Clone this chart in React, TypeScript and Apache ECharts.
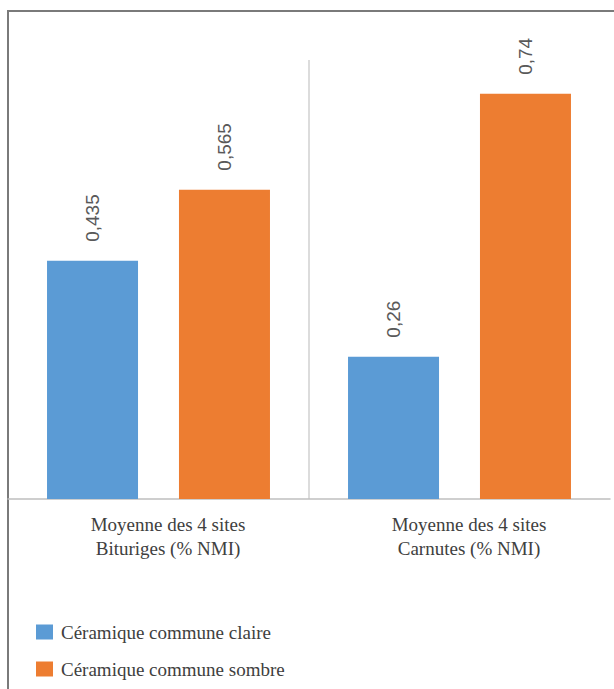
import React, { useEffect, useRef } from "react";
import * as echarts from "echarts";

const categories = [
  "Moyenne des 4 sites\nBituriges (% NMI)",
  "Moyenne des 4 sites\nCarnutes (% NMI)",
];
const seriesNames = ["Céramique commune claire", "Céramique commune sombre"];
const claireValues = [0.435, 0.26];
const sombreValues = [0.565, 0.74];
const yMax = 0.8;

const BLUE = "#5B9BD5";
const ORANGE = "#ED7D31";
const SERIF = "'Liberation Serif', 'Times New Roman', serif";

export default function App() {
  const ref = useRef<HTMLDivElement>(null);

  useEffect(() => {
    document.body.style.margin = "0";
    if (!ref.current) return;
    const chart = echarts.init(ref.current, undefined, { renderer: "svg" });

    const valueLabel = {
      show: true,
      position: "top",
      rotate: 90,
      align: "left",
      verticalAlign: "middle",
      distance: 19,
      fontFamily: "Liberation Sans",
      fontSize: 19,
      color: "#595959",
      formatter: (p: any) => String(p.value).replace(".", ","),
    };

    chart.setOption({
      animation: false,
      backgroundColor: "#ffffff",
      grid: { left: 8, right: 4, top: 61, bottom: 190, containLabel: false },
      xAxis: {
        type: "category",
        data: categories,
        axisLine: { show: true, lineStyle: { color: "#BFBFBF", width: 1.5 } },
        axisTick: { show: false },
        splitLine: { show: false },
        axisLabel: {
          color: "#404040",
          fontFamily: SERIF,
          fontSize: 19,
          lineHeight: 24,
          margin: 13,
          padding: [0, 0, 0, 19],
          interval: 0,
        },
      },
      yAxis: {
        type: "value",
        min: 0,
        max: yMax,
        show: false,
        splitLine: { show: false },
      },
      legend: {
        orient: "vertical",
        left: 36,
        top: 622,
        height: 67,
        itemWidth: 17,
        itemHeight: 15,
        itemGap: 17,
        icon: "rect",
        padding: 0,
        data: seriesNames,
        textStyle: {
          color: "#404040",
          fontFamily: SERIF,
          fontSize: 19,
          lineHeight: 20,
          padding: [0, 0, 0, 3],
        },
      },
      series: [
        {
          name: seriesNames[0],
          type: "bar",
          data: claireValues,
          barWidth: 91,
          barGap: "45%",
          itemStyle: { color: BLUE },
          label: valueLabel,
        },
        {
          name: seriesNames[1],
          type: "bar",
          data: sombreValues,
          barWidth: 91,
          barGap: "45%",
          itemStyle: { color: ORANGE },
          label: valueLabel,
        },
      ],
    });

    const p0 = chart.convertToPixel({ xAxisIndex: 0 }, 0) as number;
    const p1 = chart.convertToPixel({ xAxisIndex: 0 }, 1) as number;
    const sepX = (p0 + p1) / 2;
    const yTop = (chart.convertToPixel({ yAxisIndex: 0 }, yMax) as number) - 1;
    const yBottom = chart.convertToPixel({ yAxisIndex: 0 }, 0) as number;

    chart.setOption({
      graphic: [
        {
          type: "rect",
          shape: { x: 8, y: 11, width: 720, height: 720 },
          style: { fill: "none", stroke: "#7a7a7a", lineWidth: 2 },
          silent: true,
        },
        {
          type: "line",
          shape: { x1: sepX, y1: yTop, x2: sepX, y2: yBottom },
          style: { stroke: "#D0D0D0", lineWidth: 1.5 },
          silent: true,
        },
      ],
    });

    return () => chart.dispose();
  }, []);

  return <div ref={ref} style={{ width: 614, height: 689 }} />;
}
